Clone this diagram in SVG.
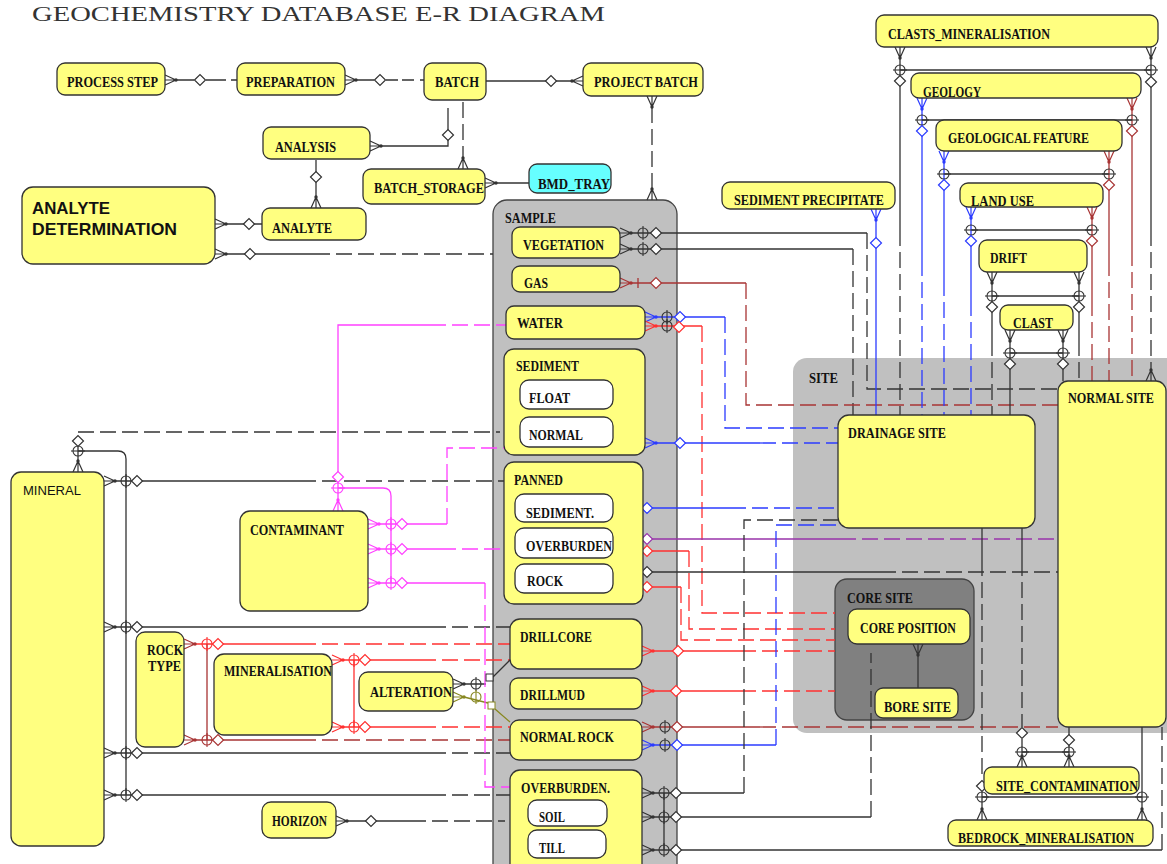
<svg xmlns="http://www.w3.org/2000/svg" xmlns:xlink="http://www.w3.org/1999/xlink" width="1167" height="864" viewBox="0 0 1167 864">
<style>
.n{fill:#FFFF80;stroke:#333;stroke-width:1.3}
.w{fill:#FFFFFF;stroke:#333;stroke-width:1.3}
.t{font-family:"Liberation Serif",serif;font-size:14px;font-weight:bold;fill:#111}
.s{font-family:"Liberation Sans",Arial,sans-serif;fill:#111}
#connectors path{fill:none;stroke-width:1.3}
.k{stroke:#333}
.r{stroke:#FF3030}
.br{stroke:#A83434}
.b{stroke:#2B3BFF}
.m{stroke:#FF40FF}
.p{stroke:#9933AA}
.o{stroke:#878720}
.d{stroke-dasharray:16 6}
.uk{color:#333}
.ur{color:#FF3030}
.ubr{color:#A83434}
.ub{color:#2B3BFF}
.um{color:#FF40FF}
.up{color:#9933AA}
.uo{color:#878720}
</style>
<defs>
<g id="cf"><path d="M0,-5L11,0M0,0L11,0M0,5L11,0" fill="none" stroke="currentColor" stroke-width="1.2"/><circle cx="11" cy="0" r="1.7" fill="currentColor"/></g>
<g id="dm"><path d="M-5.5,0L0,-5.5L5.5,0L0,5.5Z" fill="#fff" stroke="currentColor" stroke-width="1.2"/></g>
<g id="oc"><circle r="5" fill="none" stroke="currentColor" stroke-width="1.1"/><path d="M0,-7V7" stroke="currentColor" stroke-width="1.1"/></g>
</defs>
<rect width="1167" height="864" fill="#fff"/>
<text x="32" y="21" font-family="Liberation Serif,serif" font-size="21" fill="#333" textLength="573" lengthAdjust="spacingAndGlyphs">GEOCHEMISTRY DATABASE E-R DIAGRAM</text>

<g id="site"><rect x="793" y="358" width="390" height="375" rx="14" fill="#C0C0C0"/><text class="t" x="809" y="383" textLength="29" lengthAdjust="spacingAndGlyphs">SITE</text></g>
<g id="sample"><rect x="493" y="200" width="184" height="690" rx="14" fill="#C0C0C0" stroke="#444" stroke-width="1.3"/><text class="t" x="505" y="223" font-size="13" textLength="51" lengthAdjust="spacingAndGlyphs">SAMPLE</text></g>
<g id="core_site"><rect x="835" y="579" width="139" height="141" rx="12" fill="#808080" stroke="#444" stroke-width="1.3"/><text class="t" x="847" y="603" textLength="66" lengthAdjust="spacingAndGlyphs">CORE SITE</text></g>

<g id="connectors">
<path class="k" d="M176,80H194M206,80H226M231,80H237"/>
<path class="k" d="M356,80H374M386,80H398"/><path class="k d" d="M402,80H424" style="stroke-dasharray:12 6"/>
<path class="k" d="M486,81H572"/>
<path class="k" d="M381,146H448V108"/>
<path class="k d" d="M463,102V158"/>
<path class="k" d="M496,183H529"/>
<path class="k" d="M316,160V197"/>
<path class="k" d="M226,224H262"/>
<path class="k" d="M226,254H330"/><path class="k d" d="M336,254H493"/>
<path class="k d" d="M652,107V189"/>
<path class="k" d="M631,233H867"/><path class="k d" d="M867,233V389H1058"/>
<path class="k" d="M631,249H853"/><path class="k d" d="M853,249V415"/>
<path class="br" d="M631,283H746M638,278V288"/><path class="br d" d="M746,283V405H1058"/>
<path class="b" d="M656,317H725"/><path class="b d" d="M725,317V428H838"/>
<path class="r" d="M656,326H702"/><path class="r d" d="M702,326V613H835"/>
<path class="b" d="M656,443H760"/><path class="b d" d="M760,443H838"/>
<path class="b" d="M624,508H730"/><path class="b d" d="M730,508H838"/>
<path class="p" d="M624,539H840"/><path class="p d" d="M840,539H1058"/>
<path class="r" d="M624,551H689"/><path class="r d" d="M689,551V629H835"/>
<path class="k" d="M624,572H880"/><path class="k d" d="M880,572H1058"/>
<path class="r" d="M624,587H681"/><path class="r d" d="M681,587V640H835"/>
<path class="r" d="M653,651H740"/><path class="r d" d="M740,651H835"/>
<path class="r" d="M653,691H740"/><path class="r d" d="M740,691H835"/>
<path class="br" d="M653,727H760"/><path class="br d" d="M760,727H1058"/>
<path class="b" d="M653,745H776"/><path class="b d" d="M776,745V525H838"/>
<path class="k" d="M653,793H744M664,793V850"/><path class="k d" d="M744,793V520H838"/>
<path class="k" d="M653,817H871"/><path class="k d" d="M871,817V653"/>
<path class="k" d="M653,850H1162"/><path class="k d" d="M1162,850V727"/>
<path class="k" d="M918,655V688"/>
<path class="k" d="M982,528V560"/><path class="k d" d="M982,560V780"/><path class="k" d="M982,792V809"/>
<path class="k" d="M1022,528V560"/><path class="k d" d="M1022,560V727"/><path class="k" d="M1022,739V756M1022,752H1069"/>
<path class="k" d="M1069,727V756"/>
<path class="k" d="M1142,727V809M982,797H1142"/>
<path class="k" d="M78,461V436"/><path class="k d" d="M78,432H500"/>
<path class="k" d="M78,451H118Q126,451 126,459V795"/>
<path class="k" d="M115,481H300"/><path class="k d" d="M300,481H504"/>
<path class="k" d="M115,627H430"/><path class="k d" d="M430,627H510"/>
<path class="k" d="M115,753H430"/><path class="k d" d="M430,753H510"/>
<path class="k" d="M115,795H430"/><path class="k d" d="M430,795H510"/>
<path class="r" d="M195,644H300"/><path class="r d" d="M300,644H510"/>
<path class="br" d="M195,740H300M207,644V740"/><path class="br d" d="M300,740H510"/>
<path class="r" d="M343,660H420M354,660V727M343,727H420"/><path class="r d" d="M420,660H510M420,727H510"/>
<path class="k" d="M464,684H486M493,677L510,660"/>
<path class="o" d="M464,697L488,703M495,709L510,722"/>
<path class="m" d="M338,500V325H430"/><path class="m d" d="M430,325H506"/>
<path class="m" d="M338,488H383Q391,488 391,496V583"/>
<path class="m" d="M379,524H447"/><path class="m d" d="M447,524V448H504"/>
<path class="m" d="M379,549H440"/><path class="m d" d="M440,549H504"/>
<path class="m" d="M379,583H485"/><path class="m d" d="M485,583V787H510"/>
<path class="k" d="M347,821H410"/><path class="k d" d="M410,821H505"/>
<path class="b" d="M876,220V415"/>
<path class="k" d="M900,58V230M900,70H1151M1151,58V230"/><path class="k d" d="M900,230V415M1151,230V370"/>
<path class="b" d="M922,109V260"/><path class="b d" d="M922,260V415"/>
<path class="br" d="M1132,109V250"/><path class="br d" d="M1132,250V381"/>
<path class="k" d="M922,120H1132M944,174H1109M971,230H1092M992,296H1079M1010,353H1063"/>
<path class="b" d="M944,162V280"/><path class="b d" d="M944,280V415"/>
<path class="br" d="M1109,162V260"/><path class="br d" d="M1109,260V381"/>
<path class="b" d="M971,218V300"/><path class="b d" d="M971,300V415"/>
<path class="br" d="M1092,218V300"/><path class="br d" d="M1092,300V381"/>
<path class="k" d="M992,283V340M1079,283V340"/><path class="k d" d="M992,340V415M1079,340V381"/>
<path class="k" d="M1010,341V415M1063,341V381"/>

<use href="#cf" class="uk" transform="translate(165,80)"/><use href="#dm" class="uk" transform="translate(200,80)"/>
<use href="#cf" class="uk" transform="translate(345,80)"/><use href="#dm" class="uk" transform="translate(380,80)"/>
<use href="#dm" class="uk" transform="translate(551,81)"/><use href="#cf" class="uk" transform="translate(583,81) rotate(180)"/>
<use href="#cf" class="uk" transform="translate(370,146)"/><use href="#dm" class="uk" transform="translate(448,135)"/>
<use href="#cf" class="uk" transform="translate(463,169) rotate(-90)"/>
<use href="#cf" class="uk" transform="translate(485,183)"/>
<use href="#dm" class="uk" transform="translate(316,177)"/><use href="#cf" class="uk" transform="translate(316,208) rotate(-90)"/>
<use href="#cf" class="uk" transform="translate(215,224)"/><use href="#dm" class="uk" transform="translate(249,224)"/>
<use href="#cf" class="uk" transform="translate(215,254)"/><use href="#dm" class="uk" transform="translate(250,254)"/>
<use href="#cf" class="uk" transform="translate(652,96) rotate(90)"/><use href="#cf" class="uk" transform="translate(652,200) rotate(-90)"/>

<use href="#cf" class="uk" transform="translate(620,233)"/><use href="#oc" class="uk" transform="translate(643,233)"/><use href="#dm" class="uk" transform="translate(656,233)"/>
<use href="#cf" class="uk" transform="translate(620,249)"/><use href="#oc" class="uk" transform="translate(643,249)"/><use href="#dm" class="uk" transform="translate(656,249)"/>
<use href="#cf" class="ubr" transform="translate(620,283)"/><use href="#dm" class="ubr" transform="translate(656,283)"/>
<use href="#cf" class="ub" transform="translate(645,317)"/><use href="#oc" class="uk" transform="translate(667,317)"/><use href="#dm" class="ub" transform="translate(680,317)"/>
<use href="#cf" class="ur" transform="translate(645,326)"/><use href="#oc" class="uk" transform="translate(667,326)"/><use href="#dm" class="ur" transform="translate(679,327)"/>
<use href="#cf" class="ub" transform="translate(645,443)"/><use href="#dm" class="ub" transform="translate(680,443)"/>
<use href="#cf" class="ub" transform="translate(613,508)"/><use href="#dm" class="ub" transform="translate(647,508)"/>
<use href="#cf" class="up" transform="translate(613,539)"/><use href="#oc" class="uk" transform="translate(635,539)"/><use href="#dm" class="up" transform="translate(647,539)"/>
<use href="#cf" class="ur" transform="translate(613,551)"/><use href="#oc" class="uk" transform="translate(635,551)"/><use href="#dm" class="ur" transform="translate(647,551)"/>
<use href="#cf" class="uk" transform="translate(613,572)"/><use href="#dm" class="uk" transform="translate(647,572)"/>
<use href="#cf" class="ur" transform="translate(613,587)"/><use href="#dm" class="ur" transform="translate(647,587)"/>
<use href="#cf" class="ur" transform="translate(642,651)"/><use href="#dm" class="ur" transform="translate(678,651)"/>
<use href="#cf" class="ur" transform="translate(642,691)"/><use href="#dm" class="ur" transform="translate(676,691)"/>
<use href="#cf" class="ubr" transform="translate(642,727)"/><use href="#oc" class="uk" transform="translate(665,727)"/><use href="#dm" class="ubr" transform="translate(677,727)"/>
<use href="#cf" class="ub" transform="translate(642,745)"/><use href="#oc" class="uk" transform="translate(665,745)"/><use href="#dm" class="ub" transform="translate(677,745)"/>
<use href="#cf" class="uk" transform="translate(642,793)"/><use href="#oc" class="uk" transform="translate(664,793)"/><use href="#dm" class="uk" transform="translate(676,793)"/>
<use href="#cf" class="uk" transform="translate(642,817)"/><use href="#oc" class="uk" transform="translate(664,817)"/><use href="#dm" class="uk" transform="translate(676,817)"/>
<use href="#cf" class="uk" transform="translate(642,850)"/><use href="#oc" class="uk" transform="translate(664,850)"/><use href="#dm" class="uk" transform="translate(676,850)"/>

<use href="#cf" class="uk" transform="translate(918,644) rotate(90)"/>

<use href="#dm" class="uk" transform="translate(982,786)"/><use href="#oc" class="uk" transform="translate(982,797) rotate(90)"/><use href="#cf" class="uk" transform="translate(982,820) rotate(-90)"/>
<use href="#dm" class="uk" transform="translate(1022,733)"/><use href="#oc" class="uk" transform="translate(1022,752) rotate(90)"/><use href="#cf" class="uk" transform="translate(1022,767) rotate(-90)"/>
<use href="#dm" class="uk" transform="translate(1069,740)"/><use href="#oc" class="uk" transform="translate(1069,752) rotate(90)"/><use href="#cf" class="uk" transform="translate(1069,767) rotate(-90)"/>
<use href="#oc" class="uk" transform="translate(1142,797) rotate(90)"/><use href="#cf" class="uk" transform="translate(1142,820) rotate(-90)"/>

<use href="#cf" class="uk" transform="translate(78,472) rotate(-90)"/><use href="#oc" class="uk" transform="translate(78,451) rotate(90)"/><use href="#dm" class="uk" transform="translate(78,441)"/>
<use href="#cf" class="uk" transform="translate(104,481)"/><use href="#oc" class="uk" transform="translate(126,481)"/><use href="#dm" class="uk" transform="translate(137,481)"/>
<use href="#cf" class="uk" transform="translate(104,627)"/><use href="#oc" class="uk" transform="translate(126,627)"/><use href="#dm" class="uk" transform="translate(137,627)"/>
<use href="#cf" class="uk" transform="translate(104,753)"/><use href="#oc" class="uk" transform="translate(126,753)"/><use href="#dm" class="uk" transform="translate(137,753)"/>
<use href="#cf" class="uk" transform="translate(104,795)"/><use href="#oc" class="uk" transform="translate(126,795)"/><use href="#dm" class="uk" transform="translate(137,795)"/>

<use href="#cf" class="ubr" transform="translate(184,644)"/><use href="#oc" class="ur" transform="translate(207,644)"/><use href="#dm" class="ur" transform="translate(218,644)"/>
<use href="#cf" class="ubr" transform="translate(184,740)"/><use href="#oc" class="ubr" transform="translate(207,740)"/><use href="#dm" class="ubr" transform="translate(218,740)"/>
<use href="#cf" class="ur" transform="translate(332,660)"/><use href="#oc" class="ur" transform="translate(354,660)"/><use href="#dm" class="ur" transform="translate(365,660)"/>
<use href="#cf" class="ur" transform="translate(332,727)"/><use href="#oc" class="ur" transform="translate(354,727)"/><use href="#dm" class="ur" transform="translate(365,727)"/>

<use href="#cf" class="uk" transform="translate(453,684)"/><use href="#oc" class="uk" transform="translate(476,684)"/><rect x="486" y="674" width="7" height="7" fill="#fff" stroke="#333"/>
<use href="#cf" class="uo" transform="translate(453,697)"/><use href="#oc" class="uo" transform="translate(476,697)"/><rect x="488" y="702" width="7" height="7" fill="#fff" stroke="#878720"/>

<use href="#cf" class="um" transform="translate(338,511) rotate(-90)"/><use href="#oc" class="um" transform="translate(338,488) rotate(90)"/><use href="#dm" class="um" transform="translate(338,477)"/>
<use href="#cf" class="um" transform="translate(368,524)"/><use href="#oc" class="um" transform="translate(391,524)"/><use href="#dm" class="um" transform="translate(402,524)"/>
<use href="#cf" class="um" transform="translate(368,549)"/><use href="#oc" class="um" transform="translate(391,549)"/><use href="#dm" class="um" transform="translate(402,549)"/>
<use href="#cf" class="um" transform="translate(368,583)"/><use href="#oc" class="um" transform="translate(391,583)"/><use href="#dm" class="um" transform="translate(402,583)"/>

<use href="#cf" class="uk" transform="translate(336,821)"/><use href="#dm" class="uk" transform="translate(371,821)"/>

<use href="#cf" class="ub" transform="translate(876,209) rotate(90)"/><use href="#dm" class="ub" transform="translate(876,243)"/>

<use href="#cf" class="uk" transform="translate(900,47) rotate(90)"/><use href="#oc" class="uk" transform="translate(900,70) rotate(90)"/><use href="#dm" class="uk" transform="translate(900,81)"/>
<use href="#cf" class="uk" transform="translate(1151,47) rotate(90)"/><use href="#oc" class="uk" transform="translate(1151,70) rotate(90)"/><use href="#dm" class="uk" transform="translate(1151,82)"/>
<use href="#cf" class="uk" transform="translate(1151,381) rotate(-90)"/>
<use href="#cf" class="ub" transform="translate(922,98) rotate(90)"/><use href="#oc" class="uk" transform="translate(922,120) rotate(90)"/><use href="#dm" class="ub" transform="translate(922,131)"/>
<use href="#cf" class="ubr" transform="translate(1132,98) rotate(90)"/><use href="#oc" class="uk" transform="translate(1132,120) rotate(90)"/><use href="#dm" class="ubr" transform="translate(1132,131)"/>
<use href="#cf" class="ub" transform="translate(944,151) rotate(90)"/><use href="#oc" class="uk" transform="translate(944,174) rotate(90)"/><use href="#dm" class="ub" transform="translate(944,185)"/>
<use href="#cf" class="ubr" transform="translate(1109,151) rotate(90)"/><use href="#oc" class="uk" transform="translate(1109,174) rotate(90)"/><use href="#dm" class="ubr" transform="translate(1109,185)"/>
<use href="#cf" class="ub" transform="translate(971,207) rotate(90)"/><use href="#oc" class="uk" transform="translate(971,230) rotate(90)"/><use href="#dm" class="ub" transform="translate(971,241)"/>
<use href="#cf" class="ubr" transform="translate(1092,207) rotate(90)"/><use href="#oc" class="uk" transform="translate(1092,230) rotate(90)"/><use href="#dm" class="ubr" transform="translate(1092,241)"/>
<use href="#cf" class="uk" transform="translate(992,272) rotate(90)"/><use href="#oc" class="uk" transform="translate(992,296) rotate(90)"/><use href="#dm" class="uk" transform="translate(992,307)"/>
<use href="#cf" class="uk" transform="translate(1079,272) rotate(90)"/><use href="#oc" class="uk" transform="translate(1079,296) rotate(90)"/><use href="#dm" class="uk" transform="translate(1079,307)"/>
<use href="#cf" class="uk" transform="translate(1010,330) rotate(90)"/><use href="#oc" class="uk" transform="translate(1010,353) rotate(90)"/><use href="#dm" class="uk" transform="translate(1010,364)"/>
<use href="#cf" class="uk" transform="translate(1063,330) rotate(90)"/><use href="#oc" class="uk" transform="translate(1063,353) rotate(90)"/><use href="#dm" class="uk" transform="translate(1063,364)"/>
</g>

<g id="process_step"><rect class="n" x="57" y="63" width="108" height="32" rx="8"/><text class="t" x="67" y="87" textLength="91" lengthAdjust="spacingAndGlyphs">PROCESS STEP</text></g>
<g id="preparation"><rect class="n" x="237" y="63" width="108" height="32" rx="8"/><text class="t" x="246" y="87" textLength="89" lengthAdjust="spacingAndGlyphs">PREPARATION</text></g>
<g id="batch"><rect class="n" x="424" y="63" width="62" height="37" rx="8"/><text class="t" x="435" y="87" textLength="44" lengthAdjust="spacingAndGlyphs">BATCH</text></g>
<g id="project_batch"><rect class="n" x="583" y="63" width="120" height="33" rx="8"/><text class="t" x="594" y="87" textLength="104" lengthAdjust="spacingAndGlyphs">PROJECT BATCH</text></g>
<g id="analysis"><rect class="n" x="263" y="127" width="107" height="32" rx="8"/><text class="t" x="275" y="152" textLength="61" lengthAdjust="spacingAndGlyphs">ANALYSIS</text></g>
<g id="analyte"><rect class="n" x="262" y="208" width="104" height="32" rx="8"/><text class="t" x="272" y="233" textLength="60" lengthAdjust="spacingAndGlyphs">ANALYTE</text></g>
<g id="analyte_determination"><rect class="n" x="22" y="187" width="193" height="77" rx="11"/><text class="s" x="32" y="214" font-size="17" font-weight="bold" textLength="78" lengthAdjust="spacingAndGlyphs">ANALYTE</text><text class="s" x="32" y="235" font-size="17" font-weight="bold" textLength="145" lengthAdjust="spacingAndGlyphs">DETERMINATION</text></g>
<g id="batch_storage"><rect class="n" x="363" y="169" width="122" height="35" rx="8"/><text class="t" x="374" y="193" textLength="110" lengthAdjust="spacingAndGlyphs">BATCH_STORAGE</text></g>
<g id="bmd_tray"><rect x="529" y="164" width="82" height="29" rx="8" fill="#66FFFF" stroke="#333" stroke-width="1.3"/><text class="t" x="538" y="189" textLength="72" lengthAdjust="spacingAndGlyphs">BMD_TRAY</text></g>

<g id="vegetation"><rect class="n" x="512" y="227" width="108" height="31" rx="8"/><text class="t" x="523" y="250" textLength="81" lengthAdjust="spacingAndGlyphs">VEGETATION</text></g>
<g id="gas"><rect class="n" x="512" y="266" width="108" height="26" rx="8"/><text class="t" x="524" y="288" textLength="24" lengthAdjust="spacingAndGlyphs">GAS</text></g>
<g id="water"><rect class="n" x="506" y="306" width="139" height="33" rx="8"/><text class="t" x="517" y="328" textLength="46" lengthAdjust="spacingAndGlyphs">WATER</text></g>
<g id="sediment"><rect class="n" x="504" y="349" width="141" height="106" rx="10"/><text class="t" x="516" y="371" textLength="63" lengthAdjust="spacingAndGlyphs">SEDIMENT</text>
<g id="float"><rect class="w" x="520" y="380" width="93" height="29" rx="9"/><text class="t" x="529" y="403" textLength="41" lengthAdjust="spacingAndGlyphs">FLOAT</text></g>
<g id="normal"><rect class="w" x="520" y="417" width="93" height="30" rx="9"/><text class="t" x="529" y="440" textLength="54" lengthAdjust="spacingAndGlyphs">NORMAL</text></g></g>
<g id="panned"><rect class="n" x="504" y="462" width="139" height="142" rx="10"/><text class="t" x="514" y="485" textLength="49" lengthAdjust="spacingAndGlyphs">PANNED</text>
<g id="panned_sediment"><rect class="w" x="515" y="494" width="98" height="28" rx="9"/><text class="t" x="526" y="518" textLength="68" lengthAdjust="spacingAndGlyphs">SEDIMENT.</text></g>
<g id="panned_overburden"><rect class="w" x="515" y="528" width="98" height="30" rx="9"/><text class="t" x="526" y="551" textLength="86" lengthAdjust="spacingAndGlyphs">OVERBURDEN</text></g>
<g id="panned_rock"><rect class="w" x="515" y="564" width="98" height="29" rx="9"/><text class="t" x="527" y="586" textLength="36" lengthAdjust="spacingAndGlyphs">ROCK</text></g></g>
<g id="drillcore"><rect class="n" x="510" y="619" width="132" height="50" rx="10"/><text class="t" x="520" y="642" textLength="72" lengthAdjust="spacingAndGlyphs">DRILLCORE</text></g>
<g id="drillmud"><rect class="n" x="510" y="678" width="132" height="31" rx="8"/><text class="t" x="520" y="700" textLength="65" lengthAdjust="spacingAndGlyphs">DRILLMUD</text></g>
<g id="normal_rock"><rect class="n" x="510" y="720" width="132" height="40" rx="9"/><text class="t" x="520" y="742" textLength="94" lengthAdjust="spacingAndGlyphs">NORMAL ROCK</text></g>
<g id="overburden"><rect class="n" x="510" y="770" width="132" height="110" rx="10"/><text class="t" x="521" y="793" textLength="89" lengthAdjust="spacingAndGlyphs">OVERBURDEN.</text>
<g id="soil"><rect class="w" x="528" y="800" width="79" height="26" rx="9"/><text class="t" x="539" y="822" textLength="26" lengthAdjust="spacingAndGlyphs">SOIL</text></g>
<g id="till"><rect class="w" x="528" y="830" width="78" height="28" rx="9"/><text class="t" x="539" y="853" textLength="26" lengthAdjust="spacingAndGlyphs">TILL</text></g></g>

<g id="sediment_precipitate"><rect class="n" x="722" y="182" width="173" height="27" rx="8"/><text class="t" x="734" y="205" textLength="150" lengthAdjust="spacingAndGlyphs">SEDIMENT PRECIPITATE</text></g>
<g id="clasts_mineralisation"><rect class="n" x="876" y="15" width="282" height="32" rx="8"/><text class="t" x="888" y="39" textLength="162" lengthAdjust="spacingAndGlyphs">CLASTS_MINERALISATION</text></g>
<g id="geology"><rect class="n" x="911" y="73" width="230" height="25" rx="8"/><text class="t" x="923" y="97" textLength="58" lengthAdjust="spacingAndGlyphs">GEOLOGY</text></g>
<g id="geological_feature"><rect class="n" x="936" y="120" width="186" height="31" rx="8"/><text class="t" x="948" y="143" textLength="141" lengthAdjust="spacingAndGlyphs">GEOLOGICAL FEATURE</text></g>
<g id="land_use"><rect class="n" x="960" y="183" width="143" height="24" rx="8"/><text class="t" x="971" y="206" textLength="63" lengthAdjust="spacingAndGlyphs">LAND USE</text></g>
<g id="drift"><rect class="n" x="979" y="240" width="108" height="32" rx="8"/><text class="t" x="990" y="263" textLength="37" lengthAdjust="spacingAndGlyphs">DRIFT</text></g>
<g id="clast"><rect class="n" x="1000" y="305" width="73" height="25" rx="8"/><text class="t" x="1013" y="328" textLength="40" lengthAdjust="spacingAndGlyphs">CLAST</text></g>

<g id="drainage_site"><rect class="n" x="838" y="415" width="197" height="113" rx="11"/><text class="t" x="848" y="438" textLength="98" lengthAdjust="spacingAndGlyphs">DRAINAGE SITE</text></g>
<g id="normal_site"><rect class="n" x="1058" y="381" width="108" height="346" rx="10"/><text class="t" x="1068" y="403" textLength="86" lengthAdjust="spacingAndGlyphs">NORMAL SITE</text></g>
<g id="core_position"><rect class="n" x="848" y="609" width="122" height="35" rx="9"/><text class="t" x="860" y="633" textLength="96" lengthAdjust="spacingAndGlyphs">CORE POSITION</text></g>
<g id="bore_site"><rect class="n" x="875" y="688" width="83" height="30" rx="8"/><text class="t" x="884" y="712" textLength="67" lengthAdjust="spacingAndGlyphs">BORE SITE</text></g>
<g id="site_contamination"><rect class="n" x="984" y="767" width="155" height="27" rx="8"/><text class="t" x="996" y="791" textLength="142" lengthAdjust="spacingAndGlyphs">SITE_CONTAMINATION</text></g>
<g id="bedrock_mineralisation"><rect class="n" x="948" y="820" width="205" height="26" rx="8"/><text class="t" x="958" y="843" textLength="176" lengthAdjust="spacingAndGlyphs">BEDROCK_MINERALISATION</text></g>

<g id="mineral"><rect class="n" x="11" y="472" width="93" height="374" rx="10"/><text class="s" x="23" y="495" font-size="13" textLength="58" lengthAdjust="spacingAndGlyphs">MINERAL</text></g>
<g id="contaminant"><rect class="n" x="240" y="511" width="128" height="100" rx="10"/><text class="t" x="250" y="535" textLength="94" lengthAdjust="spacingAndGlyphs">CONTAMINANT</text></g>
<g id="rock_type"><rect class="n" x="136" y="632" width="48" height="115" rx="9"/><text class="t" x="147" y="655" textLength="36" lengthAdjust="spacingAndGlyphs">ROCK</text><text class="t" x="148" y="671" textLength="33" lengthAdjust="spacingAndGlyphs">TYPE</text></g>
<g id="mineralisation"><rect class="n" x="214" y="654" width="118" height="81" rx="10"/><text class="t" x="224" y="676" textLength="108" lengthAdjust="spacingAndGlyphs">MINERALISATION</text></g>
<g id="alteration"><rect class="n" x="359" y="672" width="94" height="39" rx="9"/><text class="t" x="370" y="697" textLength="82" lengthAdjust="spacingAndGlyphs">ALTERATION</text></g>
<g id="horizon"><rect class="n" x="262" y="802" width="74" height="36" rx="9"/><text class="t" x="272" y="826" textLength="55" lengthAdjust="spacingAndGlyphs">HORIZON</text></g>
</svg>
